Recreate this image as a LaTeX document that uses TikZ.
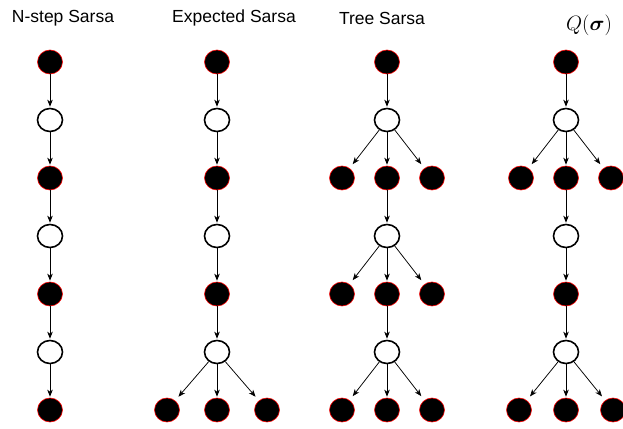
\documentclass[tikz,border=0pt]{standalone}
\usepackage{fontspec}
\usepackage{amsmath}
\usepackage{bm}
\newfontfamily\titlefont{Liberation Sans}
\usetikzlibrary{arrows.meta,positioning,shapes.geometric}

\begin{document}
\begin{tikzpicture}[->,>={Stealth[length=7pt,width=5.5pt,inset=2pt]},shorten >=1pt,x=1pt,y=1pt,line width=0.75pt,
        node distance=58pt and 45pt,on grid,
        act/.style={ellipse,draw=red,line width=0.6pt,fill=black,minimum width=25pt,minimum height=24pt,inner sep=0pt},
        obs/.style={ellipse,draw=black,line width=1.6pt,fill=white,minimum width=25pt,minimum height=23pt,inner sep=0pt},
        title/.style={font=\titlefont\fontsize{17.5}{20}\selectfont},
        fan/.style={shorten >=5pt}]

  \useasboundingbox (0,0) rectangle (623,428);

  % titles
  \node[title] (h1) at (63,410) {N-step Sarsa};
  \node[title] (h2) at (234,410) {Expected Sarsa};
  \node[title] (h3) at (382,410) {Tree Sarsa};
  \node[font=\fontsize{21}{24}\selectfont] (h4) at (589,403) {$Q(\bm{\sigma})$};

  % N-step Sarsa
  \node[act] (n0) at (50,366) {};
  \node[obs] (n1) [below=of n0] {};
  \node[act] (n2) [below=of n1] {};
  \node[obs] (n3) [below=of n2] {};
  \node[act] (n4) [below=of n3] {};
  \node[obs] (n5) [below=of n4] {};
  \node[act] (n6) [below=of n5] {};

  \path (n0) edge (n1) (n1) edge (n2) (n2) edge (n3)
        (n3) edge (n4) (n4) edge (n5) (n5) edge (n6);

  % Expected Sarsa
  \node[act] (e0) at (217,366) {};
  \node[obs] (e1) [below=of e0] {};
  \node[act] (e2) [below=of e1] {};
  \node[obs] (e3) [below=of e2] {};
  \node[act] (e4) [below=of e3] {};
  \node[obs] (e5) [below=of e4] {};
  \node[act] (e6l) [below left=58pt and 50pt of e5] {};
  \node[act] (e6) [below=of e5] {};
  \node[act] (e6r) [below right=58pt and 50pt of e5] {};

  \path (e0) edge (e1) (e1) edge (e2) (e2) edge (e3)
        (e3) edge (e4) (e4) edge (e5)
        (e5) edge[fan] (e6l) (e5) edge (e6) (e5) edge[fan] (e6r);

  % Tree Sarsa
  \node[act] (t0) at (387,366) {};
  \node[obs] (t1) [below=of t0] {};
  \node[act] (t2l) [below left=of t1] {};
  \node[act] (t2) [below=of t1] {};
  \node[act] (t2r) [below right=of t1] {};
  \node[obs] (t3) [below=of t2] {};
  \node[act] (t4l) [below left=of t3] {};
  \node[act] (t4) [below=of t3] {};
  \node[act] (t4r) [below right=of t3] {};
  \node[obs] (t5) [below=of t4] {};
  \node[act] (t6l) [below left=of t5] {};
  \node[act] (t6) [below=of t5] {};
  \node[act] (t6r) [below right=of t5] {};

  \path (t0) edge (t1)
        (t1) edge[fan] (t2l) (t1) edge (t2) (t1) edge[fan] (t2r)
        (t2) edge (t3)
        (t3) edge[fan] (t4l) (t3) edge (t4) (t3) edge[fan] (t4r)
        (t4) edge (t5)
        (t5) edge[fan] (t6l) (t5) edge (t6) (t5) edge[fan] (t6r);

  % Q(sigma)
  \node[act] (q0) at (566,366) {};
  \node[obs] (q1) [below=of q0] {};
  \node[act] (q2l) [below left=of q1] {};
  \node[act] (q2) [below=of q1] {};
  \node[act] (q2r) [below right=of q1] {};
  \node[obs] (q3) [below=of q2] {};
  \node[act] (q4) [below=of q3] {};
  \node[obs] (q5) [below=of q4] {};
  \node[act] (q6l) [below left=58pt and 47pt of q5] {};
  \node[act] (q6) [below=of q5] {};
  \node[act] (q6r) [below right=58pt and 47pt of q5] {};

  \path (q0) edge (q1)
        (q1) edge[fan] (q2l) (q1) edge (q2) (q1) edge[fan] (q2r)
        (q2) edge (q3) (q3) edge (q4) (q4) edge (q5)
        (q5) edge[fan] (q6l) (q5) edge (q6) (q5) edge[fan] (q6r);

\end{tikzpicture}
\end{document}
